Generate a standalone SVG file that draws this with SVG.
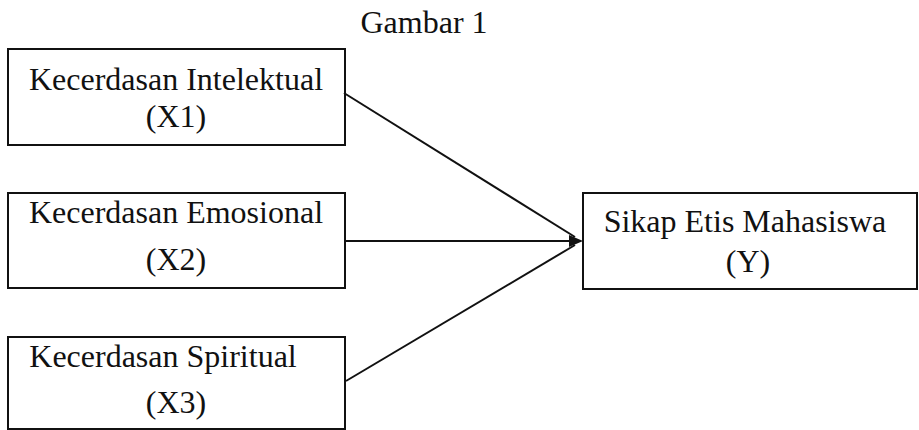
<svg xmlns="http://www.w3.org/2000/svg" width="919" height="430" viewBox="0 0 919 430">
<style>
.box{fill:#fff;stroke:#111;stroke-width:2}
.t{font-family:"Liberation Serif",serif;font-size:32px;fill:#111;text-anchor:middle}
.c{stroke:#111;stroke-width:2;fill:none}
</style>
<rect width="919" height="430" fill="#fff"/>
<text class="t" x="424" y="33">Gambar 1</text>
<g id="x1">
<rect class="box" x="8" y="49" width="337" height="96"/>
<text class="t" x="176" y="90">Kecerdasan Intelektual</text>
<text class="t" x="176" y="127">(X1)</text>
</g>
<g id="x2">
<rect class="box" x="8" y="193" width="337" height="95"/>
<text class="t" x="176" y="223">Kecerdasan Emosional</text>
<text class="t" x="176" y="270">(X2)</text>
</g>
<g id="x3">
<rect class="box" x="8" y="337" width="337" height="92"/>
<text class="t" x="163" y="367">Kecerdasan Spiritual</text>
<text class="t" x="176" y="413">(X3)</text>
</g>
<g id="y">
<rect class="box" x="583" y="193" width="334" height="96"/>
<text class="t" x="745" y="232">Sikap Etis Mahasiswa</text>
<text class="t" x="748" y="272">(Y)</text>
</g>
<g id="connectors">
<line class="c" x1="344" y1="93" x2="575" y2="237"/>
<line class="c" x1="345" y1="241" x2="572" y2="241"/>
<line class="c" x1="346" y1="381" x2="575" y2="245"/>
<polygon points="569,235 583,241 569,247" fill="#111"/>
</g>
</svg>
